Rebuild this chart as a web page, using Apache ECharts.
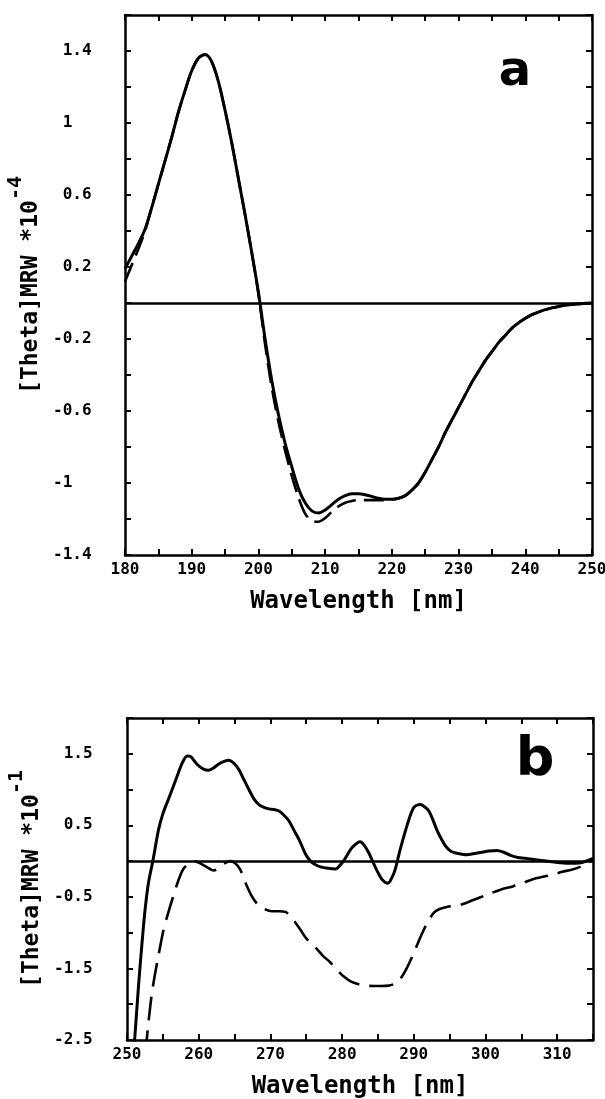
<!DOCTYPE html>
<html>
<head>
<meta charset="utf-8">
<script src="https://cdn.jsdelivr.net/npm/echarts@6/dist/echarts.min.js"></script>
<style>
html,body{margin:0;padding:0;background:#fff;}
#c{width:605px;height:1099px;}
</style>
</head>
<body>
<div id="c"></div>
<script>
// ---------- Panel a (far-UV) ----------
const wlA = [180,181,182,183,184,185,186,187,188,189,190,191,192,193,194,195,196,197,198,199,200,
  201,202,203,204,205,206,207,208,209,210,211,212,213,214,215,216,217,218,219,220,
  221,222,223,224,225,226,227,228,229,230,231,232,233,234,235,236,237,238,239,240,
  241,242,243,244,245,246,247,248,249,250];
const solidA = [0.19,0.26,0.33,0.41,0.53,0.66,0.79,0.92,1.06,1.18,1.29,1.36,1.38,1.34,1.23,1.07,0.89,0.69,0.49,0.28,0.06,
  -0.2,-0.43,-0.62,-0.78,-0.91,-1.03,-1.11,-1.155,-1.167,-1.15,-1.12,-1.09,-1.07,-1.06,-1.06,-1.065,-1.075,-1.085,-1.09,-1.09,
  -1.085,-1.07,-1.04,-1.0,-0.94,-0.87,-0.8,-0.72,-0.65,-0.58,-0.51,-0.44,-0.38,-0.32,-0.27,-0.22,-0.18,-0.14,-0.11,-0.085,
  -0.065,-0.05,-0.037,-0.027,-0.019,-0.013,-0.008,-0.005,-0.002,0];
const dashedA = [0.12,0.21,0.3,0.4,0.53,0.66,0.79,0.92,1.06,1.18,1.29,1.36,1.38,1.34,1.23,1.07,0.89,0.69,0.49,0.28,0.05,
  -0.23,-0.47,-0.66,-0.82,-0.96,-1.08,-1.17,-1.21,-1.215,-1.195,-1.16,-1.13,-1.11,-1.1,-1.095,-1.095,-1.095,-1.095,-1.095,-1.092,
  -1.085,-1.07,-1.04,-1.0,-0.94,-0.87,-0.8,-0.72,-0.65,-0.58,-0.51,-0.44,-0.38,-0.32,-0.27,-0.22,-0.18,-0.14,-0.11,-0.085,
  -0.065,-0.05,-0.037,-0.027,-0.019,-0.013,-0.008,-0.005,-0.002,0];
const xTicksA = ['180','190','200','210','220','230','240','250'];
const yTicksA = ['-1.4','-1','-0.6','-0.2','0.2','0.6','1','1.4'];

// ---------- Panel b (near-UV) ----------
const wlSolidB = [250.8,251.1,251.6,252.1,252.5,253.0,253.6,254.4,255.0,255.6,256.3,257.0,257.7,258.4,258.9,259.8,260.6,261.4,262.2,263.0,
  264.2,265.0,265.6,266.3,267.0,267.7,268.4,269.1,269.8,270.5,271.2,272.0,272.6,273.3,274.0,274.9,275.6,276.3,277.0,278.0,
  279.1,279.7,280.2,280.8,281.4,282.5,283.1,283.7,284.3,284.9,285.6,286.4,287.0,287.4,288.1,289.1,290.0,290.9,291.5,292.1,
  292.7,293.2,293.9,294.6,295.3,296.0,297.4,299.3,300.5,301.6,302.6,303.5,304.5,305.5,307.0,308.5,310.0,311.5,312.6,313.5,314.3,315.0];
const solidB = [-2.8,-2.45,-1.75,-1.14,-0.7,-0.3,0.0,0.44,0.66,0.82,1.0,1.19,1.37,1.47,1.46,1.35,1.29,1.27,1.31,1.37,
  1.41,1.36,1.28,1.14,1.0,0.87,0.79,0.75,0.73,0.72,0.7,0.63,0.56,0.43,0.3,0.1,0.0,-0.05,-0.08,-0.1,
  -0.11,-0.06,0.0,0.1,0.19,0.27,0.22,0.12,-0.01,-0.14,-0.26,-0.31,-0.22,-0.12,0.16,0.51,0.75,0.79,0.76,0.7,
  0.57,0.44,0.3,0.19,0.13,0.11,0.09,0.12,0.14,0.15,0.12,0.08,0.05,0.04,0.02,0.0,-0.02,-0.03,-0.03,-0.02,0.01,0.04];
const wlDashedB = [252.6,252.8,253.3,253.7,254.2,255.1,255.7,256.3,257.2,257.8,258.4,259.4,260.2,260.9,262.1,262.7,263.3,264.4,265.1,265.8,
  266.6,267.4,268.1,268.8,270.2,271.2,272.1,272.8,273.5,274.2,275.0,276.3,277.3,278.4,279.3,280.2,281.2,282.3,283.3,284.4,
  285.5,286.5,287.4,288.1,288.9,289.8,290.6,291.4,292.1,292.8,293.6,294.6,296.5,298.4,300.2,302.1,303.9,305.3,306.7,308.0,
  309.3,310.7,312.0,313.2,314.2,315.0];
const dashedB = [-2.7,-2.45,-1.98,-1.7,-1.42,-0.96,-0.74,-0.54,-0.26,-0.12,-0.05,0.0,-0.03,-0.07,-0.13,-0.1,-0.05,0.0,-0.03,-0.12,
  -0.32,-0.49,-0.59,-0.65,-0.7,-0.7,-0.71,-0.77,-0.86,-0.96,-1.08,-1.21,-1.32,-1.42,-1.52,-1.61,-1.68,-1.72,-1.74,-1.745,
  -1.745,-1.74,-1.71,-1.65,-1.52,-1.33,-1.14,-0.96,-0.83,-0.72,-0.67,-0.64,-0.61,-0.54,-0.47,-0.4,-0.35,-0.3,-0.25,-0.22,
  -0.19,-0.15,-0.12,-0.08,-0.03,0.02];
const xTicksB = ['250','260','270','280','290','300','310'];
const yTicksB = ['-2.5','-1.5','-0.5','0.5','1.5'];

const pairs = (xs, ys) => xs.map((x, i) => [x, ys[i]]);

const MONO = 'DejaVu Sans Mono';
const tickFmtX = list => v => (list.indexOf(String(Math.round(v))) >= 0 && Math.abs(v - Math.round(v)) < 1e-6) ? String(Math.round(v)) : '';
const tickFmtY = list => v => {
  for (const l of list) {
    if (Math.abs(parseFloat(l) - v) < 1e-6) return l.charAt(0) === '-' ? l : ' ' + l;
  }
  return '';
};

const axisLineStyle = { show: true, onZero: false, lineStyle: { color: '#000', width: 2.5 } };
const tickStyle = { show: true, inside: true, length: 6, lineStyle: { color: '#000', width: 2 } };
const labelBase = { color: '#000', fontFamily: MONO, fontWeight: 'bold', fontSize: 16 };
const nameStyleX = { color: '#000', fontFamily: MONO, fontWeight: 'bold', fontSize: 24 };
const nameStyleY = {
  color: '#000',
  rich: {
    m: { fontFamily: MONO, fontWeight: 'bold', fontSize: 23, lineHeight: 36, verticalAlign: 'bottom', color: '#000' },
    s: { fontFamily: MONO, fontWeight: 'bold', fontSize: 20, lineHeight: 36, verticalAlign: 'top', color: '#000' }
  }
};

function xAxisCfg(grid, min, max, ticks, pos, showLabel) {
  return {
    type: 'value', gridIndex: grid, min: min, max: max, interval: 5, position: pos,
    axisLine: axisLineStyle, axisTick: tickStyle, splitLine: { show: false },
    axisLabel: Object.assign({ show: showLabel, margin: 7, formatter: tickFmtX(ticks) }, labelBase),
    name: showLabel ? 'Wavelength [nm]' : '', nameLocation: 'middle', nameGap: 35, nameTextStyle: nameStyleX
  };
}
function yAxisCfg(grid, min, max, interval, ticks, pos, showLabel, name, margin, gap) {
  return {
    type: 'value', gridIndex: grid, min: min, max: max, interval: interval, position: pos,
    axisLine: axisLineStyle, axisTick: tickStyle, splitLine: { show: false },
    axisLabel: Object.assign({ show: showLabel, margin: margin, align: 'left', formatter: tickFmtY(ticks) }, labelBase),
    name: name, nameLocation: 'middle', nameGap: gap, nameTextStyle: nameStyleY
  };
}

const zeroLine = {
  silent: true, symbol: ['none', 'none'], label: { show: false },
  lineStyle: { color: '#000', width: 2.5, type: 'solid', opacity: 1 },
  emphasis: { disabled: true },
  data: [{ yAxis: 0 }]
};

const option = {
  animation: false,
  backgroundColor: '#fff',
  grid: [
    { left: 125, right: 13, top: 15, height: 540, containLabel: false, outerBoundsMode: 'none' },
    { left: 127, right: 12, top: 718, height: 322, containLabel: false, outerBoundsMode: 'none' }
  ],
  xAxis: [
    xAxisCfg(0, 180, 250, xTicksA, 'bottom', true),
    xAxisCfg(0, 180, 250, xTicksA, 'top', false),
    xAxisCfg(1, 250, 315, xTicksB, 'bottom', true),
    xAxisCfg(1, 250, 315, xTicksB, 'top', false)
  ],
  yAxis: [
    yAxisCfg(0, -1.4, 1.6, 0.2, yTicksA, 'left', true, '{m|[Theta]MRW *10}{s|-4}', 72, 62),
    yAxisCfg(0, -1.4, 1.6, 0.2, yTicksA, 'right', false, '', 8, 10),
    yAxisCfg(1, -2.5, 2, 0.5, yTicksB, 'left', true, '{m|[Theta]MRW *10}{s|-1}', 73, 70),
    yAxisCfg(1, -2.5, 2, 0.5, yTicksB, 'right', false, '', 8, 10)
  ],
  series: [
    { type: 'line', xAxisIndex: 0, yAxisIndex: 0, data: pairs(wlA, dashedA), showSymbol: false, smooth: 0.3, z: 3,
      lineStyle: { color: '#000', width: 2.6, type: [20, 8] } },
    { type: 'line', xAxisIndex: 0, yAxisIndex: 0, data: pairs(wlA, solidA), showSymbol: false, smooth: 0.3, z: 4,
      lineStyle: { color: '#000', width: 3 }, markLine: zeroLine },
    { type: 'line', xAxisIndex: 2, yAxisIndex: 2, data: pairs(wlDashedB, dashedB), showSymbol: false, smooth: 0.3, z: 3,
      lineStyle: { color: '#000', width: 2.6, type: [24, 10] } },
    { type: 'line', xAxisIndex: 2, yAxisIndex: 2, data: pairs(wlSolidB, solidB), showSymbol: false, smooth: 0.3, z: 4,
      lineStyle: { color: '#000', width: 3 }, markLine: zeroLine }
  ],
  graphic: [
    { type: 'text', x: 515, y: 73, style: { text: 'a', font: 'bold 48px "DejaVu Sans"', fill: '#000', align: 'center', verticalAlign: 'middle' } },
    { type: 'text', x: 535, y: 761, style: { text: 'b', font: 'bold 54px "DejaVu Sans"', fill: '#000', align: 'center', verticalAlign: 'middle' } }
  ]
};

const chart = echarts.init(document.getElementById('c'), null, { renderer: 'canvas' });
chart.setOption(option);
</script>
</body>
</html>
